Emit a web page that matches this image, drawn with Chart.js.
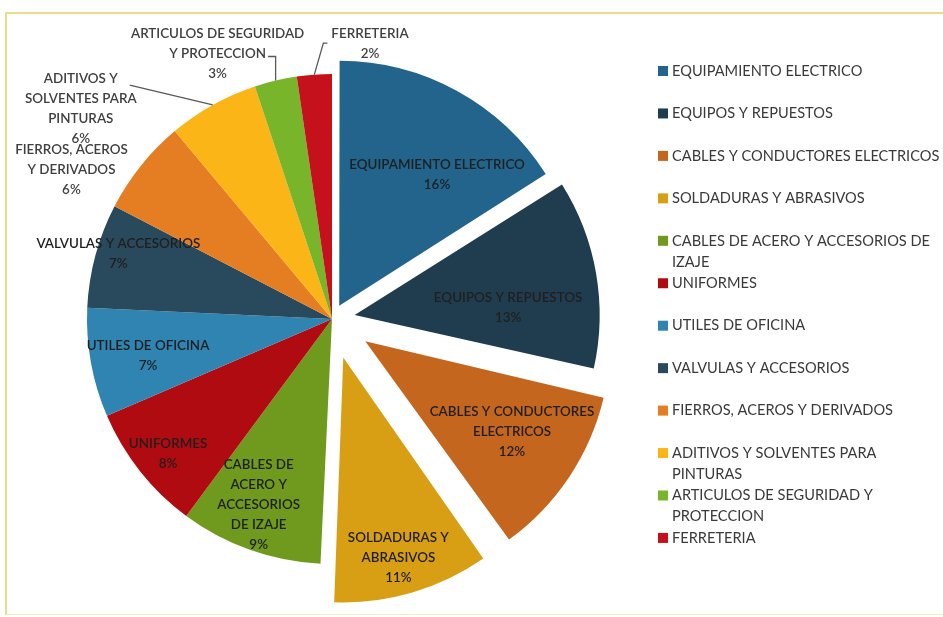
<!DOCTYPE html>
<html>
<head>
<meta charset="utf-8">
<title>Pie</title>
<script src="https://cdn.jsdelivr.net/npm/chart.js@4.4.1/dist/chart.umd.min.js"></script>
<style>
  html, body { margin: 0; padding: 0; background: #fff; }
  body { width: 943px; height: 617px; position: relative; overflow: hidden; }
  .frame {
    position: absolute; left: 5px; top: 12px; width: 950px; height: 600px;
    border-top: 2px solid #ecdc8a; border-left: 2px solid #ecdc8a; border-bottom: 1px solid #f4edc4;
  }
  #wrap { position: absolute; left: 0; top: 0; width: 943px; height: 617px; }
</style>
</head>
<body>
<div class="frame"></div>
<div id="wrap"><canvas id="pieChart"></canvas></div>
<script>
// categories and their shares
const categories = [
  "EQUIPAMIENTO ELECTRICO",
  "EQUIPOS Y REPUESTOS",
  "CABLES Y CONDUCTORES ELECTRICOS",
  "SOLDADURAS Y ABRASIVOS",
  "CABLES DE ACERO Y ACCESORIOS DE IZAJE",
  "UNIFORMES",
  "UTILES DE OFICINA",
  "VALVULAS Y ACCESORIOS",
  "FIERROS, ACEROS Y DERIVADOS",
  "ADITIVOS Y SOLVENTES PARA PINTURAS",
  "ARTICULOS DE SEGURIDAD Y PROTECCION",
  "FERRETERIA",
];
const shares = [16.0, 12.6, 11.6, 10.6, 9.4, 8.4, 7.2, 6.9, 6.3, 6.0, 2.8, 2.3];

const sliceColors = [
  "#22648b", "#203d4f", "#c4661e", "#d99f14", "#6f9a1d", "#b00b10",
  "#3084b1", "#29495c", "#e57e23", "#fbb516", "#79b52b", "#c4111b",
];

// how the texts are broken on the slices and in the legend
const sliceLabelLines = [
  ["EQUIPAMIENTO ELECTRICO"],
  ["EQUIPOS Y REPUESTOS"],
  ["CABLES Y CONDUCTORES", "ELECTRICOS"],
  ["SOLDADURAS Y", "ABRASIVOS"],
  ["CABLES DE", "ACERO Y", "ACCESORIOS", "DE IZAJE"],
  ["UNIFORMES"],
  ["UTILES DE OFICINA"],
  ["VALVULAS Y ACCESORIOS"],
  ["FIERROS, ACEROS", "Y DERIVADOS"],
  ["ADITIVOS Y", "SOLVENTES PARA", "PINTURAS"],
  ["ARTICULOS DE SEGURIDAD", "Y PROTECCION"],
  ["FERRETERIA"],
];
const legendLines = [
  ["EQUIPAMIENTO ELECTRICO"],
  ["EQUIPOS Y REPUESTOS"],
  ["CABLES Y CONDUCTORES ELECTRICOS"],
  ["SOLDADURAS Y ABRASIVOS"],
  ["CABLES DE ACERO Y ACCESORIOS DE", "IZAJE"],
  ["UNIFORMES"],
  ["UTILES DE OFICINA"],
  ["VALVULAS Y ACCESORIOS"],
  ["FIERROS, ACEROS Y DERIVADOS"],
  ["ADITIVOS Y SOLVENTES PARA", "PINTURAS"],
  ["ARTICULOS DE SEGURIDAD Y", "PROTECCION"],
  ["FERRETERIA"],
];

// exploded slices (px pulled out) and where each label sits
const explode = [15, 23, 40, 40, 0, 0, 0, 0, 0, 0, 0, 0];
const labelShift = [8, 7, -2, 1, 2, -1, -1, 2, -9, -21, -10, 12]; // degrees from mid angle
const labelDist = [0.667, 0.627, 0.704, 0.849, 0.813, 0.866, 0.766, 0.912, 1.225, 1.336, 1.18, 1.133];
const leaders = [null, null, null, null, null, null, null, null, null, "diag", "elbow", "left"];

const total = shares.reduce((a, b) => a + b, 0);
const RADIUS = 245;
const LABEL_FONT = "600 13.4px Lato";
const LEGEND_FONT = "14.6px Lato";

// Chart.js v4 grows an offset arc's radius a little; keep exploded slices at the same radius
const keepRadius = {
  id: "keepRadius",
  beforeDatasetsDraw(chart) {
    chart.getDatasetMeta(0).data.forEach((arc) => {
      const off = (arc.options.offset || 0) / 4;
      const fix = 1 - Math.sin(Math.min(Math.PI, arc.circumference || 0));
      arc.outerRadius = RADIUS - off * fix;
    });
  },
};

const sliceLabels = {
  id: "sliceLabels",
  afterDatasetsDraw(chart) {
    const ctx = chart.ctx;
    const meta = chart.getDatasetMeta(0);
    ctx.save();
    ctx.font = LABEL_FONT;
    ctx.textAlign = "center";
    ctx.textBaseline = "middle";
    meta.data.forEach((arc, i) => {
      const p = arc.getProps(["x", "y", "startAngle", "endAngle"], true);
      const mid = (p.startAngle + p.endAngle) / 2;
      const cx = p.x + Math.cos(mid) * explode[i];
      const cy = p.y + Math.sin(mid) * explode[i];
      const a = mid + (labelShift[i] * Math.PI) / 180;
      const lx = cx + Math.cos(a) * RADIUS * labelDist[i];
      const ly = cy + Math.sin(a) * RADIUS * labelDist[i];
      const lines = sliceLabelLines[i].concat([Math.round((shares[i] / total) * 100) + "%"]);
      const lh = 20;
      const top = ly - ((lines.length - 1) * lh) / 2;
      const outside = labelDist[i] > 1;
      ctx.fillStyle = outside ? "#404040" : "#1f1f1f";
      lines.forEach((t, k) => ctx.fillText(t, lx, top + k * lh));

      if (leaders[i]) {
        const ex = cx + Math.cos(mid) * RADIUS;
        const ey = cy + Math.sin(mid) * RADIUS;
        ctx.strokeStyle = "#595959";
        ctx.lineWidth = 1.3;
        ctx.beginPath();
        ctx.moveTo(ex, ey);
        if (leaders[i] === "diag") {
          const w = ctx.measureText(lines[0]).width;
          ctx.lineTo(lx + w / 2 + 12, top + 6);
        } else if (leaders[i] === "elbow") {
          const w = ctx.measureText(lines[1]).width;
          const yy = top + lh + 3;
          ctx.lineTo(ex, yy);
          ctx.lineTo(lx + w / 2 + 2, yy);
        } else {
          const w = ctx.measureText(lines[0]).width;
          const xx = lx - w / 2 - 4;
          const yy = top + 9;
          ctx.lineTo(xx - 4, yy);
          ctx.lineTo(xx, yy);
        }
        ctx.stroke();
      }
    });
    ctx.restore();
  },
};

const sideLegend = {
  id: "sideLegend",
  afterDraw(chart) {
    const ctx = chart.ctx;
    const colors = chart.data.datasets[0].backgroundColor;
    ctx.save();
    ctx.font = LEGEND_FONT;
    ctx.textBaseline = "middle";
    ctx.textAlign = "left";
    chart.data.labels.forEach((lab, i) => {
      const y = 71 + i * 42.45;
      ctx.fillStyle = colors[i];
      ctx.fillRect(658, y - 5, 10, 10);
      ctx.fillStyle = "#3a3a3a";
      legendLines[i].forEach((t, k) => ctx.fillText(t, 672, y + k * 21));
    });
    ctx.restore();
  },
};

new Chart(document.getElementById("pieChart"), {
  type: "pie",
  data: {
    labels: categories,
    datasets: [
      {
        data: shares,
        backgroundColor: sliceColors,
        borderWidth: 0,
        offset: explode.map((e) => e * 4), // v4 draws offset/4
      },
    ],
  },
  options: {
    responsive: true,
    maintainAspectRatio: false,
    animation: false,
    radius: RADIUS,
    layout: { padding: { left: 0, right: 279, top: 21, bottom: 0 } },
    plugins: {
      legend: { display: false },
      tooltip: { enabled: false },
    },
  },
  plugins: [keepRadius, sliceLabels, sideLegend],
});
</script>
</body>
</html>
